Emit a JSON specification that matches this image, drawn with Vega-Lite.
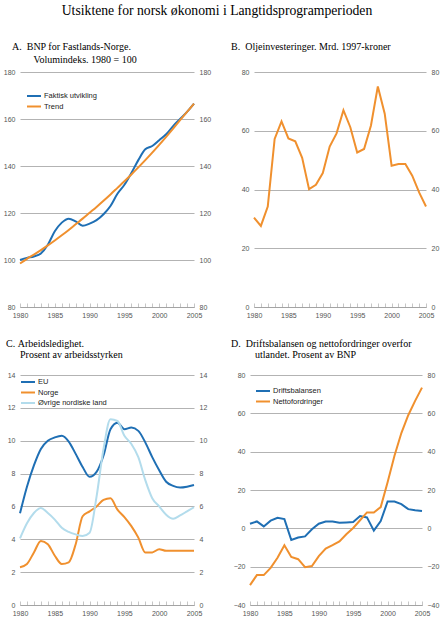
{
  "$schema": "https://vega.github.io/schema/vega-lite/v6.json",
  "background": "white",
  "padding": {"left": 2, "top": 4, "right": 0, "bottom": 2},
  "title": {
    "text": "Utsiktene for norsk økonomi i Langtidsprogramperioden",
    "font": "Liberation Serif",
    "fontSize": 13.7,
    "fontWeight": "normal",
    "anchor": "middle",
    "frame": "bounds",
    "dx": -6,
    "offset": 24,
    "color": "#000"
  },
  "datasets": {
    "bnp": [
      {"year": 1980, "serie": "Faktisk utvikling", "v": 100},
      {"year": 1981, "serie": "Faktisk utvikling", "v": 100.9},
      {"year": 1982, "serie": "Faktisk utvikling", "v": 101.5},
      {"year": 1983, "serie": "Faktisk utvikling", "v": 102.8},
      {"year": 1984, "serie": "Faktisk utvikling", "v": 106.5},
      {"year": 1985, "serie": "Faktisk utvikling", "v": 112.2},
      {"year": 1986, "serie": "Faktisk utvikling", "v": 115.9},
      {"year": 1987, "serie": "Faktisk utvikling", "v": 117.6},
      {"year": 1988, "serie": "Faktisk utvikling", "v": 116.4},
      {"year": 1989, "serie": "Faktisk utvikling", "v": 114.6},
      {"year": 1990, "serie": "Faktisk utvikling", "v": 115.5},
      {"year": 1991, "serie": "Faktisk utvikling", "v": 117},
      {"year": 1992, "serie": "Faktisk utvikling", "v": 119.5},
      {"year": 1993, "serie": "Faktisk utvikling", "v": 123},
      {"year": 1994, "serie": "Faktisk utvikling", "v": 128.2},
      {"year": 1995, "serie": "Faktisk utvikling", "v": 132},
      {"year": 1996, "serie": "Faktisk utvikling", "v": 137},
      {"year": 1997, "serie": "Faktisk utvikling", "v": 142.5},
      {"year": 1998, "serie": "Faktisk utvikling", "v": 147.1},
      {"year": 1999, "serie": "Faktisk utvikling", "v": 148.5},
      {"year": 2000, "serie": "Faktisk utvikling", "v": 151},
      {"year": 2001, "serie": "Faktisk utvikling", "v": 153.5},
      {"year": 2002, "serie": "Faktisk utvikling", "v": 157},
      {"year": 2003, "serie": "Faktisk utvikling", "v": 160},
      {"year": 2004, "serie": "Faktisk utvikling", "v": 163},
      {"year": 2005, "serie": "Faktisk utvikling", "v": 166.5},
      {"year": 1980, "serie": "Trend", "v": 98.5},
      {"year": 1981, "serie": "Trend", "v": 100.5},
      {"year": 1982, "serie": "Trend", "v": 102.3},
      {"year": 1983, "serie": "Trend", "v": 104.2},
      {"year": 1984, "serie": "Trend", "v": 106.2},
      {"year": 1985, "serie": "Trend", "v": 108.3},
      {"year": 1986, "serie": "Trend", "v": 110.5},
      {"year": 1987, "serie": "Trend", "v": 112.8},
      {"year": 1988, "serie": "Trend", "v": 115.2},
      {"year": 1989, "serie": "Trend", "v": 117.6},
      {"year": 1990, "serie": "Trend", "v": 120.1},
      {"year": 1991, "serie": "Trend", "v": 122.6},
      {"year": 1992, "serie": "Trend", "v": 125.2},
      {"year": 1993, "serie": "Trend", "v": 127.9},
      {"year": 1994, "serie": "Trend", "v": 130.7},
      {"year": 1995, "serie": "Trend", "v": 133.5},
      {"year": 1996, "serie": "Trend", "v": 136.4},
      {"year": 1997, "serie": "Trend", "v": 139.4},
      {"year": 1998, "serie": "Trend", "v": 142.5},
      {"year": 1999, "serie": "Trend", "v": 145.7},
      {"year": 2000, "serie": "Trend", "v": 149},
      {"year": 2001, "serie": "Trend", "v": 152.4},
      {"year": 2002, "serie": "Trend", "v": 155.9},
      {"year": 2003, "serie": "Trend", "v": 159.5},
      {"year": 2004, "serie": "Trend", "v": 163},
      {"year": 2005, "serie": "Trend", "v": 166.5}
    ],
    "olje": [
      {"year": 1980, "v": 30.4},
      {"year": 1981, "v": 27.6},
      {"year": 1982, "v": 34.2},
      {"year": 1983, "v": 57.2},
      {"year": 1984, "v": 63.2},
      {"year": 1985, "v": 57.4},
      {"year": 1986, "v": 56.4},
      {"year": 1987, "v": 50.8},
      {"year": 1988, "v": 40.1},
      {"year": 1989, "v": 41.6},
      {"year": 1990, "v": 45.6},
      {"year": 1991, "v": 54.6},
      {"year": 1992, "v": 59.1},
      {"year": 1993, "v": 67},
      {"year": 1994, "v": 61.2},
      {"year": 1995, "v": 52.6},
      {"year": 1996, "v": 53.8},
      {"year": 1997, "v": 61.8},
      {"year": 1998, "v": 75.1},
      {"year": 1999, "v": 65.8},
      {"year": 2000, "v": 48.1},
      {"year": 2001, "v": 48.7},
      {"year": 2002, "v": 48.7},
      {"year": 2003, "v": 44.7},
      {"year": 2004, "v": 39},
      {"year": 2005, "v": 34.2}
    ],
    "ledighet": [
      {"year": 1980, "serie": "EU", "v": 5.58},
      {"year": 1981, "serie": "EU", "v": 7.2},
      {"year": 1982, "serie": "EU", "v": 8.5},
      {"year": 1983, "serie": "EU", "v": 9.5},
      {"year": 1984, "serie": "EU", "v": 10},
      {"year": 1985, "serie": "EU", "v": 10.2},
      {"year": 1986, "serie": "EU", "v": 10.3},
      {"year": 1987, "serie": "EU", "v": 9.95},
      {"year": 1988, "serie": "EU", "v": 9.2},
      {"year": 1989, "serie": "EU", "v": 8.4},
      {"year": 1990, "serie": "EU", "v": 7.8},
      {"year": 1991, "serie": "EU", "v": 8.1},
      {"year": 1992, "serie": "EU", "v": 9.1},
      {"year": 1993, "serie": "EU", "v": 10.7},
      {"year": 1994, "serie": "EU", "v": 11.1},
      {"year": 1995, "serie": "EU", "v": 10.7},
      {"year": 1996, "serie": "EU", "v": 10.8},
      {"year": 1997, "serie": "EU", "v": 10.6},
      {"year": 1998, "serie": "EU", "v": 9.9},
      {"year": 1999, "serie": "EU", "v": 9},
      {"year": 2000, "serie": "EU", "v": 8.2},
      {"year": 2001, "serie": "EU", "v": 7.5},
      {"year": 2002, "serie": "EU", "v": 7.25},
      {"year": 2003, "serie": "EU", "v": 7.15},
      {"year": 2004, "serie": "EU", "v": 7.2},
      {"year": 2005, "serie": "EU", "v": 7.3},
      {"year": 1980, "serie": "Norge", "v": 2.3},
      {"year": 1981, "serie": "Norge", "v": 2.5},
      {"year": 1982, "serie": "Norge", "v": 3.2},
      {"year": 1983, "serie": "Norge", "v": 3.9},
      {"year": 1984, "serie": "Norge", "v": 3.7},
      {"year": 1985, "serie": "Norge", "v": 3.0},
      {"year": 1986, "serie": "Norge", "v": 2.5},
      {"year": 1987, "serie": "Norge", "v": 2.6},
      {"year": 1988, "serie": "Norge", "v": 3.7},
      {"year": 1989, "serie": "Norge", "v": 5.4},
      {"year": 1990, "serie": "Norge", "v": 5.7},
      {"year": 1991, "serie": "Norge", "v": 6.0},
      {"year": 1992, "serie": "Norge", "v": 6.4},
      {"year": 1993, "serie": "Norge", "v": 6.5},
      {"year": 1994, "serie": "Norge", "v": 5.8},
      {"year": 1995, "serie": "Norge", "v": 5.35},
      {"year": 1996, "serie": "Norge", "v": 4.8},
      {"year": 1997, "serie": "Norge", "v": 4.1},
      {"year": 1998, "serie": "Norge", "v": 3.2},
      {"year": 1999, "serie": "Norge", "v": 3.2},
      {"year": 2000, "serie": "Norge", "v": 3.4},
      {"year": 2001, "serie": "Norge", "v": 3.3},
      {"year": 2002, "serie": "Norge", "v": 3.3},
      {"year": 2003, "serie": "Norge", "v": 3.3},
      {"year": 2004, "serie": "Norge", "v": 3.3},
      {"year": 2005, "serie": "Norge", "v": 3.3},
      {"year": 1980, "serie": "Øvrige nordiske land", "v": 4.05},
      {"year": 1981, "serie": "Øvrige nordiske land", "v": 4.97},
      {"year": 1982, "serie": "Øvrige nordiske land", "v": 5.6},
      {"year": 1983, "serie": "Øvrige nordiske land", "v": 5.9},
      {"year": 1984, "serie": "Øvrige nordiske land", "v": 5.6},
      {"year": 1985, "serie": "Øvrige nordiske land", "v": 5.2},
      {"year": 1986, "serie": "Øvrige nordiske land", "v": 4.7},
      {"year": 1987, "serie": "Øvrige nordiske land", "v": 4.45},
      {"year": 1988, "serie": "Øvrige nordiske land", "v": 4.3},
      {"year": 1989, "serie": "Øvrige nordiske land", "v": 4.2},
      {"year": 1990, "serie": "Øvrige nordiske land", "v": 4.4},
      {"year": 1991, "serie": "Øvrige nordiske land", "v": 6.6},
      {"year": 1992, "serie": "Øvrige nordiske land", "v": 9.5},
      {"year": 1993, "serie": "Øvrige nordiske land", "v": 11.3},
      {"year": 1994, "serie": "Øvrige nordiske land", "v": 11.2},
      {"year": 1995, "serie": "Øvrige nordiske land", "v": 10.3},
      {"year": 1996, "serie": "Øvrige nordiske land", "v": 9.8},
      {"year": 1997, "serie": "Øvrige nordiske land", "v": 9.0},
      {"year": 1998, "serie": "Øvrige nordiske land", "v": 7.6},
      {"year": 1999, "serie": "Øvrige nordiske land", "v": 6.5},
      {"year": 2000, "serie": "Øvrige nordiske land", "v": 6.0},
      {"year": 2001, "serie": "Øvrige nordiske land", "v": 5.5},
      {"year": 2002, "serie": "Øvrige nordiske land", "v": 5.25},
      {"year": 2003, "serie": "Øvrige nordiske land", "v": 5.45},
      {"year": 2004, "serie": "Øvrige nordiske land", "v": 5.7},
      {"year": 2005, "serie": "Øvrige nordiske land", "v": 5.95}
    ],
    "drift": [
      {"year": 1980, "serie": "Driftsbalansen", "v": 2.4},
      {"year": 1981, "serie": "Driftsbalansen", "v": 3.6},
      {"year": 1982, "serie": "Driftsbalansen", "v": 1.0},
      {"year": 1983, "serie": "Driftsbalansen", "v": 4.0},
      {"year": 1984, "serie": "Driftsbalansen", "v": 5.5},
      {"year": 1985, "serie": "Driftsbalansen", "v": 4.8},
      {"year": 1986, "serie": "Driftsbalansen", "v": -6.1},
      {"year": 1987, "serie": "Driftsbalansen", "v": -4.8},
      {"year": 1988, "serie": "Driftsbalansen", "v": -4.2},
      {"year": 1989, "serie": "Driftsbalansen", "v": -0.5},
      {"year": 1990, "serie": "Driftsbalansen", "v": 2.4},
      {"year": 1991, "serie": "Driftsbalansen", "v": 3.6},
      {"year": 1992, "serie": "Driftsbalansen", "v": 3.6},
      {"year": 1993, "serie": "Driftsbalansen", "v": 2.9},
      {"year": 1994, "serie": "Driftsbalansen", "v": 3.1},
      {"year": 1995, "serie": "Driftsbalansen", "v": 3.3},
      {"year": 1996, "serie": "Driftsbalansen", "v": 6.4},
      {"year": 1997, "serie": "Driftsbalansen", "v": 5.7},
      {"year": 1998, "serie": "Driftsbalansen", "v": -1.2},
      {"year": 1999, "serie": "Driftsbalansen", "v": 3.8},
      {"year": 2000, "serie": "Driftsbalansen", "v": 14.0},
      {"year": 2001, "serie": "Driftsbalansen", "v": 14.0},
      {"year": 2002, "serie": "Driftsbalansen", "v": 12.6},
      {"year": 2003, "serie": "Driftsbalansen", "v": 10.0},
      {"year": 2004, "serie": "Driftsbalansen", "v": 9.4},
      {"year": 2005, "serie": "Driftsbalansen", "v": 9.0},
      {"year": 1980, "serie": "Nettofordringer", "v": -29.6},
      {"year": 1981, "serie": "Nettofordringer", "v": -24.4},
      {"year": 1982, "serie": "Nettofordringer", "v": -24.4},
      {"year": 1983, "serie": "Nettofordringer", "v": -20.6},
      {"year": 1984, "serie": "Nettofordringer", "v": -15.4},
      {"year": 1985, "serie": "Nettofordringer", "v": -8.8},
      {"year": 1986, "serie": "Nettofordringer", "v": -14.9},
      {"year": 1987, "serie": "Nettofordringer", "v": -16.1},
      {"year": 1988, "serie": "Nettofordringer", "v": -20.3},
      {"year": 1989, "serie": "Nettofordringer", "v": -19.7},
      {"year": 1990, "serie": "Nettofordringer", "v": -14.5},
      {"year": 1991, "serie": "Nettofordringer", "v": -10.6},
      {"year": 1992, "serie": "Nettofordringer", "v": -8.8},
      {"year": 1993, "serie": "Nettofordringer", "v": -6.8},
      {"year": 1994, "serie": "Nettofordringer", "v": -3.1},
      {"year": 1995, "serie": "Nettofordringer", "v": 0.2},
      {"year": 1996, "serie": "Nettofordringer", "v": 4.2},
      {"year": 1997, "serie": "Nettofordringer", "v": 8.3},
      {"year": 1998, "serie": "Nettofordringer", "v": 8.3},
      {"year": 1999, "serie": "Nettofordringer", "v": 11.1},
      {"year": 2000, "serie": "Nettofordringer", "v": 24.1},
      {"year": 2001, "serie": "Nettofordringer", "v": 37.9},
      {"year": 2002, "serie": "Nettofordringer", "v": 49.7},
      {"year": 2003, "serie": "Nettofordringer", "v": 59.0},
      {"year": 2004, "serie": "Nettofordringer", "v": 66.5},
      {"year": 2005, "serie": "Nettofordringer", "v": 73.4}
    ]
  },
  "vconcat": [
    {
      "hconcat": [
        {
          "width": 174,
          "height": 235,
          "title": {"text": ["A.\u00a0\u00a0BNP for Fastlands-Norge.", "\u2800\u2800\u00a0\u00a0\u00a0Volumindeks. 1980 = 100"], "dx": -8},
          "data": {"name": "bnp"},
          "encoding": {
            "x": {"field": "year", "type": "quantitative", "scale": {"domain": [1980, 2005], "nice": false}, "axis": {"values": [1980,1981,1982,1983,1984,1985,1986,1987,1988,1989,1990,1991,1992,1993,1994,1995,1996,1997,1998,1999,2000,2001,2002,2003,2004,2005], "labelOverlap": false, "labelExpr": "datum.value % 5 === 0 ? datum.label : ''"}}
          },
          "layer": [
            {
              "mark": {"type": "line", "interpolate": "monotone"},
              "encoding": {
                "y": {"field": "v", "type": "quantitative", "scale": {"domain": [80, 180], "nice": false}, "axis": {"values": [80, 100, 120, 140, 160, 180]}},
                "color": {"field": "serie", "type": "nominal", "scale": {"domain": ["Faktisk utvikling", "Trend"], "range": ["#1f6fb4", "#f0902e"]}, "legend": {"legendX": 8, "legendY": 18}}
              }
            },
            {
              "mark": {"type": "line", "opacity": 0},
              "encoding": {
                "y": {"field": "v", "type": "quantitative", "axis": {"orient": "right", "values": [80, 100, 120, 140, 160, 180], "grid": false}},
                "detail": {"field": "serie"}
              }
            }
          ],
          "resolve": {"axis": {"y": "independent"}}
        },
        {
          "width": 172,
          "height": 235,
          "title": {"text": ["B.\u00a0\u00a0Oljeinvesteringer. Mrd. 1997-kroner", "\u2800"], "dx": -23},
          "data": {"name": "olje"},
          "encoding": {
            "x": {"field": "year", "type": "quantitative", "scale": {"domain": [1980, 2005], "nice": false}, "axis": {"values": [1980,1981,1982,1983,1984,1985,1986,1987,1988,1989,1990,1991,1992,1993,1994,1995,1996,1997,1998,1999,2000,2001,2002,2003,2004,2005], "labelOverlap": false, "labelExpr": "datum.value % 5 === 0 ? datum.label : ''"}}
          },
          "layer": [
            {
              "mark": {"type": "line", "color": "#f0902e"},
              "encoding": {
                "y": {"field": "v", "type": "quantitative", "scale": {"domain": [0, 80], "nice": false}, "axis": {"values": [0, 20, 40, 60, 80]}}
              }
            },
            {
              "mark": {"type": "line", "opacity": 0},
              "encoding": {
                "y": {"field": "v", "type": "quantitative", "axis": {"orient": "right", "values": [0, 20, 40, 60, 80], "grid": false}}
              }
            }
          ],
          "resolve": {"axis": {"y": "independent"}}
        }
      ],
      "spacing": 19,
      "resolve": {"scale": {"color": "independent"}, "legend": {"color": "independent"}}
    },
    {
      "hconcat": [
        {
          "width": 174,
          "height": 230,
          "title": {"text": ["C.\u00a0Arbeidsledighet.", "\u2800\u2800Prosent av arbeidsstyrken"], "dx": -14, "offset": 11, "lineHeight": 11.5},
          "data": {"name": "ledighet"},
          "encoding": {
            "x": {"field": "year", "type": "quantitative", "scale": {"domain": [1980, 2005], "nice": false}, "axis": {"values": [1980,1981,1982,1983,1984,1985,1986,1987,1988,1989,1990,1991,1992,1993,1994,1995,1996,1997,1998,1999,2000,2001,2002,2003,2004,2005], "labelOverlap": false, "labelExpr": "datum.value % 5 === 0 ? datum.label : ''"}}
          },
          "layer": [
            {
              "mark": {"type": "line", "interpolate": "monotone"},
              "encoding": {
                "y": {"field": "v", "type": "quantitative", "scale": {"domain": [0, 14], "nice": false}, "axis": {"values": [0, 2, 4, 6, 8, 10, 12, 14]}},
                "color": {"field": "serie", "type": "nominal", "scale": {"domain": ["EU", "Norge", "Øvrige nordiske land"], "range": ["#1f6fb4", "#f0902e", "#b3dcec"]}, "legend": {"legendX": 2, "legendY": 1}}
              }
            },
            {
              "mark": {"type": "line", "opacity": 0},
              "encoding": {
                "y": {"field": "v", "type": "quantitative", "axis": {"orient": "right", "values": [0, 2, 4, 6, 8, 10, 12, 14], "grid": false}},
                "detail": {"field": "serie"}
              }
            }
          ],
          "resolve": {"axis": {"y": "independent"}}
        },
        {
          "width": 172,
          "height": 230,
          "title": {"text": ["D.\u00a0\u00a0Driftsbalansen og nettofordringer overfor", "\u2800\u2800\u00a0\u00a0\u00a0\u00a0utlandet. Prosent av BNP"], "dx": -19, "offset": 11, "lineHeight": 11.5},
          "data": {"name": "drift"},
          "encoding": {
            "x": {"field": "year", "type": "quantitative", "scale": {"domain": [1980, 2005], "nice": false}, "axis": {"values": [1980,1981,1982,1983,1984,1985,1986,1987,1988,1989,1990,1991,1992,1993,1994,1995,1996,1997,1998,1999,2000,2001,2002,2003,2004,2005], "labelOverlap": false, "labelExpr": "datum.value % 5 === 0 ? datum.label : ''"}}
          },
          "layer": [
            {
              "mark": {"type": "line"},
              "encoding": {
                "y": {"field": "v", "type": "quantitative", "scale": {"domain": [-40, 80], "nice": false}, "axis": {"values": [-40, -20, 0, 20, 40, 60, 80]}},
                "color": {"field": "serie", "type": "nominal", "scale": {"domain": ["Driftsbalansen", "Nettofordringer"], "range": ["#1f6fb4", "#f0902e"]}, "legend": {"legendX": 7, "legendY": 10}}
              }
            },
            {
              "mark": {"type": "line", "opacity": 0},
              "encoding": {
                "y": {"field": "v", "type": "quantitative", "axis": {"orient": "right", "values": [-40, -20, 0, 20, 40, 60, 80], "grid": false}},
                "detail": {"field": "serie"}
              }
            }
          ],
          "resolve": {"axis": {"y": "independent"}}
        }
      ],
      "spacing": 19,
      "resolve": {"scale": {"color": "independent"}, "legend": {"color": "independent"}}
    }
  ],
  "spacing": 20,
  "resolve": {"scale": {"color": "independent"}, "legend": {"color": "independent"}},
  "config": {
    "view": {"stroke": null},
    "font": "Liberation Sans",
    "title": {"font": "Liberation Serif", "fontSize": 10, "fontWeight": "normal", "anchor": "start", "frame": "group", "offset": 3, "lineHeight": 13, "color": "#000"},
    "line": {"strokeWidth": 2},
    "axis": {"title": null, "labelFontSize": 7, "labelColor": "#555", "grid": false, "domain": false, "ticks": false, "labelFlush": false, "labelOverlap": false},
    "axisY": {"grid": true, "gridColor": "#a0a0a0", "gridWidth": 0.8, "labelPadding": 5, "minExtent": 18, "maxExtent": 18},
    "axisX": {"domain": true, "domainColor": "#a0a0a0", "domainWidth": 0.8, "ticks": true, "tickColor": "#a0a0a0", "tickWidth": 0.6, "tickSize": -4, "labelPadding": 8, "labelOverlap": false, "format": "d"},
    "legend": {"orient": "none", "title": null, "labelFontSize": 7.5, "labelColor": "#222", "symbolType": "M-1.4,0H1.4", "symbolSize": 100, "symbolStrokeWidth": 2, "rowPadding": 0.5, "labelOffset": 4}
  }
}
